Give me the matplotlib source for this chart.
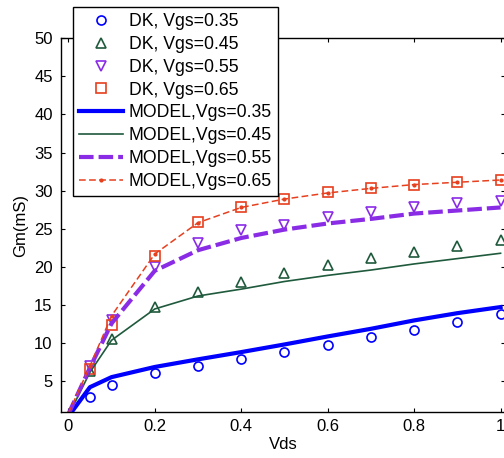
import matplotlib
matplotlib.use('Agg')
import matplotlib.pyplot as plt

plt.rcParams['font.family'] = ['Liberation Sans', 'DejaVu Sans']
plt.rcParams['font.size'] = 12

# measured points (DK)
vds_dk = [0.05, 0.1, 0.2, 0.3, 0.4, 0.5, 0.6, 0.7, 0.8, 0.9, 1.0]
dk_035 = [3.0, 4.57, 6.05, 6.97, 7.97, 8.9, 9.76, 10.8, 11.8, 12.85, 13.87]
dk_045 = [6.4, 10.6, 14.8, 16.7, 18.0, 19.2, 20.3, 21.2, 22.0, 22.8, 23.5]
dk_055 = [7.0, 13.0, 20.0, 23.1, 24.8, 25.45, 26.5, 27.2, 27.8, 28.4, 28.7]
dk_065 = [6.7, 12.4, 21.4, 25.9, 27.9, 28.9, 29.8, 30.4, 30.8, 31.1, 31.35]

# model curves
vds_m = [0.0, 0.05, 0.1, 0.2, 0.3, 0.4, 0.5, 0.6, 0.7, 0.8, 0.9, 1.0]
m_035 = [0.4, 4.25, 5.57, 6.9, 7.9, 8.85, 9.85, 10.9, 11.9, 13.0, 13.95, 14.75]
m_045 = [0.5, 6.2, 10.4, 14.5, 16.2, 17.1, 18.1, 18.9, 19.6, 20.4, 21.1, 21.8]
m_055 = [0.7, 6.8, 12.6, 19.5, 22.2, 23.8, 24.9, 25.7, 26.3, 27.0, 27.4, 27.8]
m_065 = [0.8, 7.0, 13.6, 21.7, 25.8, 27.8, 28.9, 29.7, 30.3, 30.8, 31.1, 31.4]

blue = '#0000ff'
green = '#1f5a3c'
purple = '#8a2be6'
red = '#e6401e'

fig = plt.figure(figsize=(5.04, 4.58), dpi=100)
ax = fig.add_axes([0.121, 0.1004, 0.881, 0.8166])

ax.plot(vds_dk, dk_035, 'o', ls='none', mfc='none', mec=blue, ms=6.5, mew=1.2,
        label='DK, Vgs=0.35')
ax.plot(vds_dk, dk_045, '^', ls='none', mfc='none', mec=green, ms=7, mew=1.2,
        label='DK, Vgs=0.45')
ax.plot(vds_dk, dk_055, 'v', ls='none', mfc='none', mec=purple, ms=7, mew=1.2,
        label='DK, Vgs=0.55')
ax.plot(vds_dk, dk_065, 's', ls='none', mfc='none', mec=red, ms=6.5, mew=1.2,
        label='DK, Vgs=0.65')

ax.plot(vds_m, m_035, '-', color=blue, lw=3, label='MODEL,Vgs=0.35')
ax.plot(vds_m, m_045, '-', color=green, lw=1.2, label='MODEL,Vgs=0.45')
ax.plot(vds_m, m_055, '--', color=purple, lw=3, dashes=(3.5, 1.2),
        label='MODEL,Vgs=0.55')
ax.plot(vds_m, m_065, '--', color=red, lw=1.1, dashes=(4.4, 2.2),
        marker='.', ms=4, label='MODEL,Vgs=0.65')

ax.set_xlim(-0.0169, 1.0103)
ax.set_ylim(1, 50)
ax.set_xticks([0, 0.2, 0.4, 0.6, 0.8, 1.0])
ax.set_xticklabels(['0', '0.2', '0.4', '0.6', '0.8', '1'])
ax.set_yticks(range(5, 51, 5))
ax.tick_params(direction='in', top=True, right=True, length=3, width=0.8)
ax.tick_params(axis='y', pad=6)
ax.tick_params(axis='x', pad=5)
for s in ax.spines.values():
    s.set_linewidth(1)

ax.set_xlabel('Vds', labelpad=2)
ax.set_ylabel('Gm(mS)', labelpad=4)

# legend sits above the top-left corner of the axes
leg = ax.legend(loc='upper left', bbox_to_anchor=(73 / 504, 1 - 7 / 458),
                bbox_transform=fig.transFigure, borderaxespad=0,
                fancybox=False, framealpha=1, edgecolor='black',
                handlelength=2.5, handletextpad=0.3, labelspacing=0.33,
                borderpad=0.35, fontsize=12.7)
leg.get_frame().set_linewidth(1)

fig.savefig('out.png', dpi=100)
